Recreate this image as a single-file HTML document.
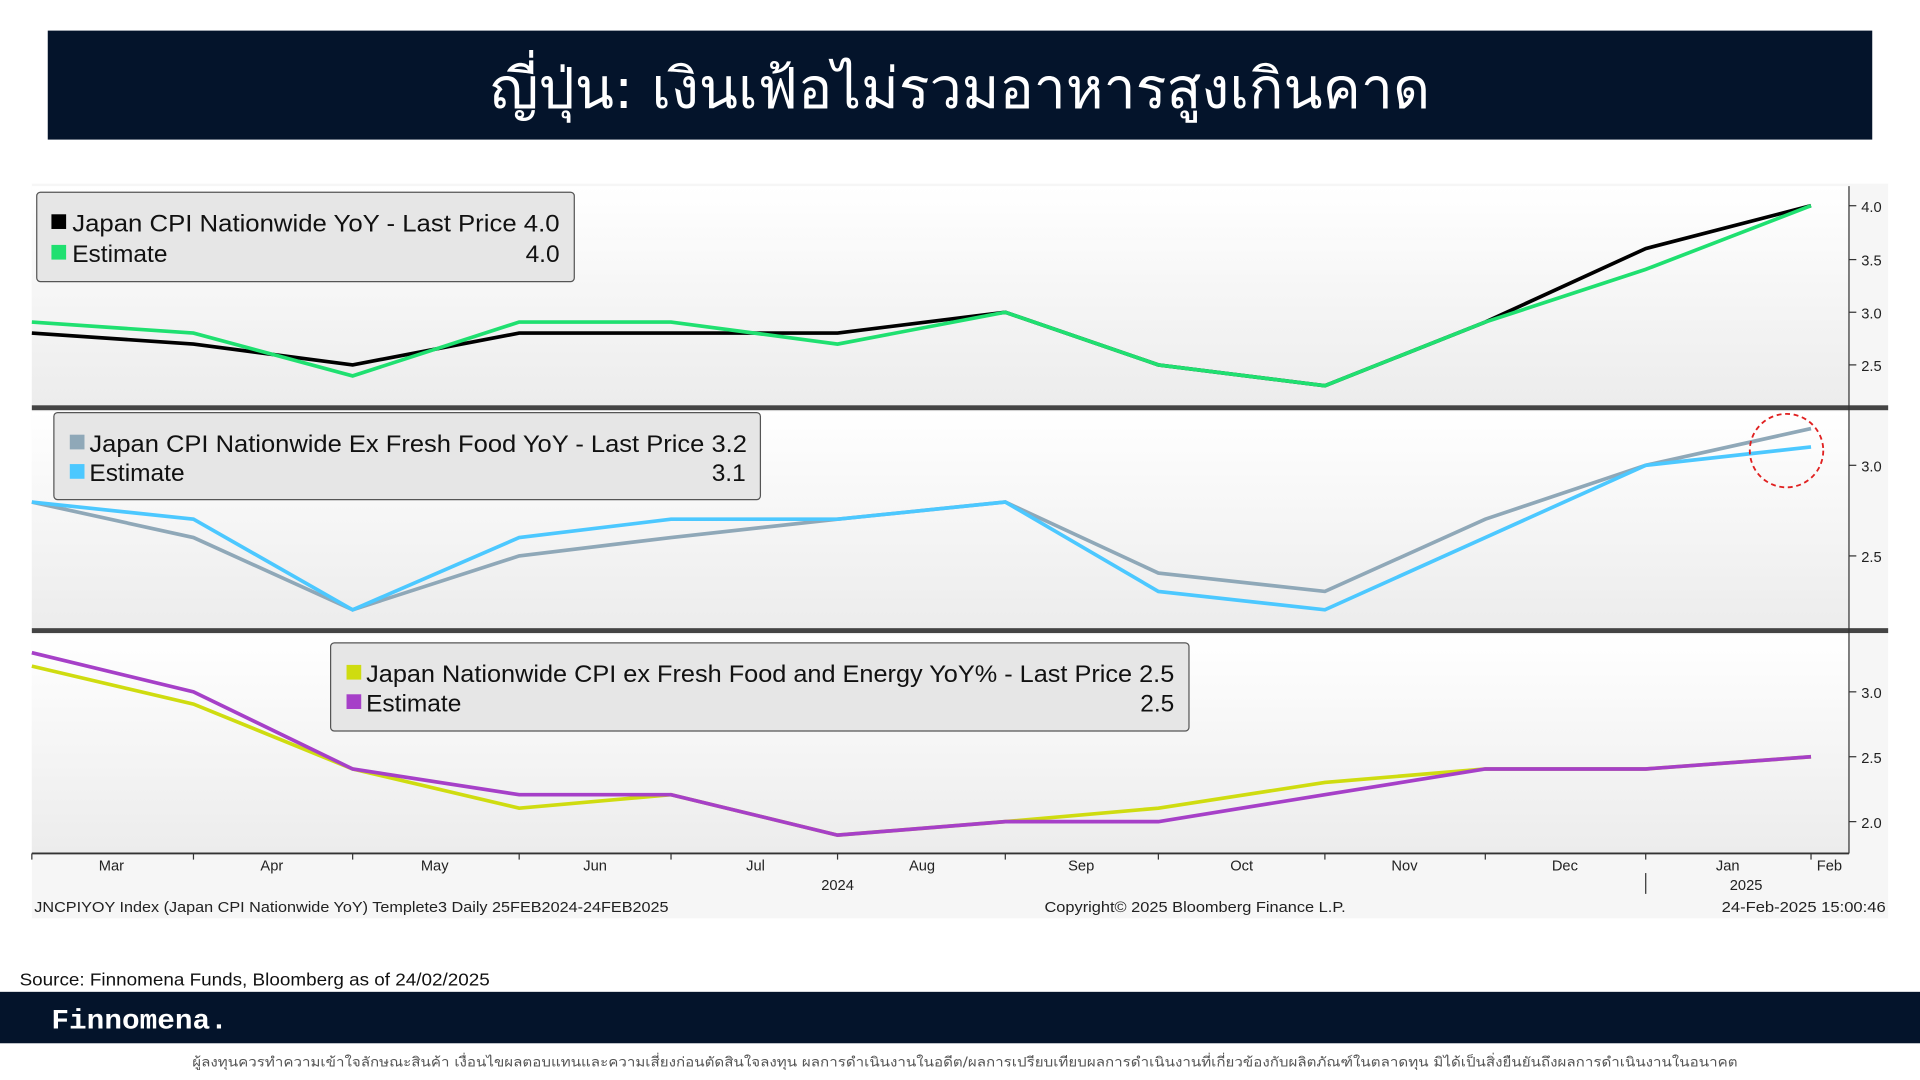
<!DOCTYPE html>
<html><head><meta charset="utf-8"><style>
html,body{margin:0;padding:0;background:#fff;width:1920px;height:1080px;overflow:hidden}
svg{display:block}
text{font-family:"Liberation Sans","Noto Sans CJK SC",sans-serif}
.ax{font-size:12px;fill:#222}
.lg{font-size:20px;fill:#111}
</style></head><body>
<svg width="1920" height="1080" viewBox="0 0 1568 882" xmlns="http://www.w3.org/2000/svg">
<defs>
<linearGradient id="g" x1="0" y1="0" x2="0" y2="1"><stop offset="0" stop-color="#ffffff"/><stop offset="1" stop-color="#ececec"/></linearGradient>
</defs>
<rect x="39" y="25" width="1490" height="89" fill="#04142b"/>
<text x="400" y="88" textLength="768" lengthAdjust="spacingAndGlyphs" font-size="46" fill="#fff" style='font-family:"DejaVu Sans","Liberation Sans",sans-serif'>ญี่ปุ่น: เงินเฟ้อไม่รวมอาหารสูงเกินคาด</text>

<rect x="26" y="150" width="1516" height="600" fill="#f6f6f6"/>
<rect x="26" y="152" width="1484" height="180" fill="url(#g)"/>
<rect x="26" y="336" width="1484" height="178" fill="url(#g)"/>
<rect x="26" y="518" width="1484" height="179" fill="url(#g)"/>
<rect x="26" y="331" width="1516" height="4" fill="#444"/>
<rect x="26" y="513" width="1516" height="4" fill="#444"/>
<line x1="1510" y1="152" x2="1510" y2="697" stroke="#333" stroke-width="1"/>
<line x1="26" y1="697" x2="1510" y2="697" stroke="#333" stroke-width="1.5"/>

<g class="ax" font-size="12">
<g stroke="#333"><line x1="1510" y1="168" x2="1516" y2="168"/><line x1="1510" y1="212" x2="1516" y2="212"/><line x1="1510" y1="255" x2="1516" y2="255"/><line x1="1510" y1="298" x2="1516" y2="298"/>
<line x1="1510" y1="380" x2="1516" y2="380"/><line x1="1510" y1="454" x2="1516" y2="454"/>
<line x1="1510" y1="565" x2="1516" y2="565"/><line x1="1510" y1="618" x2="1516" y2="618"/><line x1="1510" y1="671" x2="1516" y2="671"/></g>
<text x="1520" y="173">4.0</text><text x="1520" y="217">3.5</text><text x="1520" y="260">3.0</text><text x="1520" y="303">2.5</text>
<text x="1520" y="385">3.0</text><text x="1520" y="459">2.5</text>
<text x="1520" y="570">3.0</text><text x="1520" y="623">2.5</text><text x="1520" y="676">2.0</text>
</g>

<polyline fill="none" stroke="#000" stroke-width="3" points="26,272 158,281 288,298 424,272 548,272 684,272 821,255 946,298 1082,315 1213,263 1344,203 1479,168"/>
<polyline fill="none" stroke="#1fe070" stroke-width="3" points="26,263 158,272 288,307 424,263 548,263 684,281 821,255 946,298 1082,315 1213,263 1344,220 1479,168"/>
<polyline fill="none" stroke="#8fa8b8" stroke-width="3" points="26,410 158,439 288,498 424,454 548,439 684,424 821,410 946,468 1082,483 1213,424 1344,380 1479,350"/>
<polyline fill="none" stroke="#4cc8ff" stroke-width="3" points="26,410 158,424 288,498 424,439 548,424 684,424 821,410 946,483 1082,498 1213,439 1344,380 1479,365"/>
<circle cx="1459" cy="368" r="30" fill="none" stroke="#e02020" stroke-width="1.5" stroke-dasharray="4,3"/>
<polyline fill="none" stroke="#cfdc10" stroke-width="3" points="26,544 158,575 288,628 424,660 548,649 684,682 821,671 946,660 1082,639 1213,628 1344,628 1479,618"/>
<polyline fill="none" stroke="#a640c8" stroke-width="3" points="26,533 158,565 288,628 424,649 548,649 684,682 821,671 946,671 1082,649 1213,628 1344,628 1479,618"/>

<rect x="30" y="157" width="439" height="73" rx="3" fill="#e6e6e6" stroke="#555"/>
<rect x="42" y="175" width="12" height="12" fill="#000"/><text class="lg" x="59" y="189" textLength="398" lengthAdjust="spacingAndGlyphs">Japan CPI Nationwide YoY - Last Price 4.0</text>
<rect x="42" y="200" width="12" height="12" fill="#1fe070"/><text class="lg" x="59" y="214">Estimate</text><text class="lg" x="457" y="214" text-anchor="end">4.0</text>

<rect x="44" y="337" width="577" height="71" rx="3" fill="#e6e6e6" stroke="#555"/>
<rect x="57" y="355" width="12" height="12" fill="#8fa8b8"/><text class="lg" x="73" y="369" textLength="537" lengthAdjust="spacingAndGlyphs">Japan CPI Nationwide Ex Fresh Food YoY - Last Price 3.2</text>
<rect x="57" y="379" width="12" height="12" fill="#4cc8ff"/><text class="lg" x="73" y="393">Estimate</text><text class="lg" x="609" y="393" text-anchor="end">3.1</text>

<rect x="270" y="525" width="701" height="72" rx="3" fill="#e6e6e6" stroke="#555"/>
<rect x="283" y="543" width="12" height="12" fill="#cfdc10"/><text class="lg" x="299" y="557" textLength="660" lengthAdjust="spacingAndGlyphs">Japan Nationwide CPI ex Fresh Food and Energy YoY% - Last Price 2.5</text>
<rect x="283" y="567" width="12" height="12" fill="#a640c8"/><text class="lg" x="299" y="581">Estimate</text><text class="lg" x="959" y="581" text-anchor="end">2.5</text>

<g stroke="#333"><line x1="26" y1="697" x2="26" y2="702"/><line x1="158" y1="697" x2="158" y2="702"/><line x1="288" y1="697" x2="288" y2="702"/><line x1="424" y1="697" x2="424" y2="702"/><line x1="548" y1="697" x2="548" y2="702"/><line x1="684" y1="697" x2="684" y2="702"/><line x1="821" y1="697" x2="821" y2="702"/><line x1="946" y1="697" x2="946" y2="702"/><line x1="1082" y1="697" x2="1082" y2="702"/><line x1="1213" y1="697" x2="1213" y2="702"/><line x1="1344" y1="697" x2="1344" y2="702"/><line x1="1479" y1="697" x2="1479" y2="702"/><line x1="1344" y1="713" x2="1344" y2="730"/></g>
<g class="ax" text-anchor="middle">
<text x="91" y="711">Mar</text><text x="222" y="711">Apr</text><text x="355" y="711">May</text><text x="486" y="711">Jun</text><text x="617" y="711">Jul</text><text x="753" y="711">Aug</text><text x="883" y="711">Sep</text><text x="1014" y="711">Oct</text><text x="1147" y="711">Nov</text><text x="1278" y="711">Dec</text><text x="1411" y="711">Jan</text><text x="1494" y="711">Feb</text>
<text x="684" y="727">2024</text><text x="1426" y="727">2025</text>
</g>
<g font-size="12" fill="#222" style='font-family:"Liberation Sans",sans-serif'>
<text x="28" y="745" textLength="518" lengthAdjust="spacingAndGlyphs">JNCPIYOY Index (Japan CPI Nationwide YoY) Templete3  Daily 25FEB2024-24FEB2025</text>
<text x="853" y="745" textLength="246" lengthAdjust="spacingAndGlyphs">Copyright© 2025 Bloomberg Finance L.P.</text>
<text x="1406" y="745" textLength="134" lengthAdjust="spacingAndGlyphs">24-Feb-2025 15:00:46</text>
</g>

<text x="16" y="805" font-size="14" fill="#111" textLength="384" lengthAdjust="spacingAndGlyphs">Source: Finnomena Funds, Bloomberg as of 24/02/2025</text>
<rect x="0" y="810" width="1568" height="42" fill="#04142b"/>
<text x="42" y="840" font-size="23" font-weight="bold" fill="#fff" textLength="144" lengthAdjust="spacingAndGlyphs" style='font-family:"Liberation Mono",monospace'>Finnomena.</text>
<text x="157" y="871" font-size="11" fill="#555" textLength="1262" lengthAdjust="spacingAndGlyphs" style='font-family:"DejaVu Sans",sans-serif'>ผู้ลงทุนควรทำความเข้าใจลักษณะสินค้า เงื่อนไขผลตอบแทนและความเสี่ยงก่อนตัดสินใจลงทุน ผลการดำเนินงานในอดีต/ผลการเปรียบเทียบผลการดำเนินงานที่เกี่ยวข้องกับผลิตภัณฑ์ในตลาดทุน มิได้เป็นสิ่งยืนยันถึงผลการดำเนินงานในอนาคต</text>
</svg>
</body></html>
